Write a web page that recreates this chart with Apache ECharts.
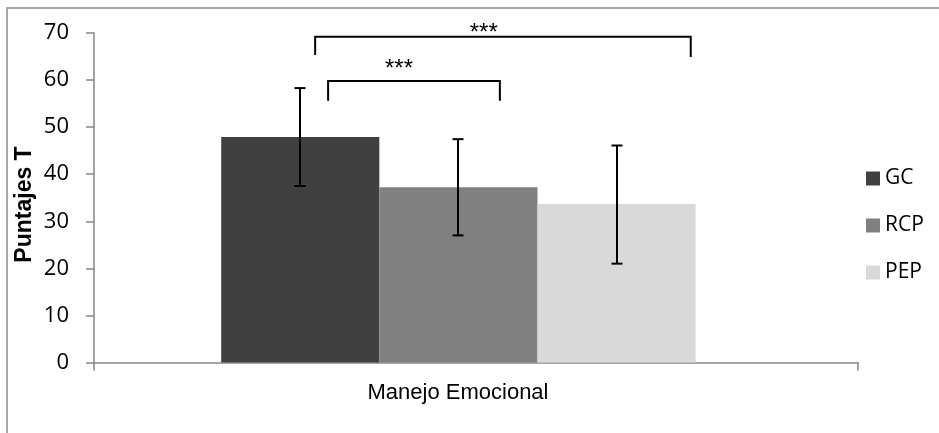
<!DOCTYPE html>
<html>
<head>
<meta charset="utf-8">
<script src="https://cdn.jsdelivr.net/npm/echarts@6/dist/echarts.min.js"></script>
<style>
html,body{margin:0;padding:0;background:#fff;}
#main{width:939px;height:433px;}
</style>
</head>
<body>
<div id="main"></div>
<script>
// ---- data ----
const categories = ['Manejo Emocional'];
const seriesNames = ['GC', 'RCP', 'PEP'];
const means = [47.9, 37.25, 33.65];
const errLow = [37.5, 27.0, 21.0];
const errHigh = [58.3, 47.45, 46.1];
// significance brackets: [fromSlot, toSlot, topValue, leftFootValue, rightFootValue]
const bracketFrom = [0.676, 0.594];
const bracketTo = [1.762, 2.969];
const bracketTop = [59.8, 69.2];
const bracketLeftFoot = [55.6, 65.3];
const bracketRightFoot = [55.6, 64.9];
const bracketLabel = ['***', '***'];
const bracketLabelSlot = [1.124, 1.66];
const bracketLabelValue = [62.3, 69.9];
const yTicks = { min: 0, max: 70, interval: 10 };

const colors = ['#404040', '#808080', '#d9d9d9'];
const BAR_PCT = 0.207, SPACER_PCT = 0.046;

const chart = echarts.init(document.getElementById('main'));

function slotX(api, slot) {
  const center = api.coord([0, 0])[0];
  const band = api.size([1, 0])[0];
  const bw = band * BAR_PCT, sw = band * SPACER_PCT;
  const start = center - (3 * bw + sw) / 2;
  return start + slot * bw;
}

const barSeries = seriesNames.map((n, i) => ({
  name: n, type: 'bar', data: [means[i]], barWidth: (BAR_PCT * 100) + '%',
  barGap: '0%', itemStyle: { color: colors[i] }, silent: true
}));
barSeries.push({ name: '_spacer', type: 'bar', data: ['-'], barWidth: (SPACER_PCT * 100) + '%', barGap: '0%', silent: true });

const errSeries = {
  type: 'custom', name: 'err', silent: true, z: 10,
  data: seriesNames.map((n, i) => [0, errLow[i], errHigh[i], i]),
  encode: { x: 0, y: [1, 2] },
  renderItem: function (params, api) {
    const slot = api.value(3);
    const x = Math.round(slotX(api, slot + 0.5));
    const yl = api.coord([0, api.value(1)])[1];
    const yh = api.coord([0, api.value(2)])[1];
    const cw = 5.5;
    const st = { stroke: '#000', lineWidth: 2 };
    return { type: 'group', children: [
      { type: 'line', shape: { x1: x, y1: yh, x2: x, y2: yl }, style: st },
      { type: 'line', shape: { x1: x - cw, y1: yh, x2: x + cw, y2: yh }, style: st },
      { type: 'line', shape: { x1: x - cw, y1: yl, x2: x + cw, y2: yl }, style: st }
    ]};
  }
};

const bracketSeries = {
  type: 'custom', name: 'brackets', silent: true, z: 10,
  data: bracketFrom.map((f, i) => [0, bracketTop[i], f, bracketTo[i], bracketLeftFoot[i], bracketRightFoot[i], bracketLabelSlot[i], bracketLabelValue[i], i]),
  encode: { x: 0, y: 1 },
  renderItem: function (params, api) {
    const i = api.value(8);
    const x1 = slotX(api, api.value(2));
    const x2 = slotX(api, api.value(3));
    const yt = api.coord([0, api.value(1)])[1];
    const yl = api.coord([0, api.value(4)])[1];
    const yr = api.coord([0, api.value(5)])[1];
    const tx = slotX(api, api.value(6));
    const ty = api.coord([0, api.value(7)])[1];
    return { type: 'group', children: [
      { type: 'polyline', shape: { points: [[x1, yl], [x1, yt], [x2, yt], [x2, yr]] },
        style: { stroke: '#000', lineWidth: 2, fill: null } },
      { type: 'text', x: tx, y: ty,
        style: { text: bracketLabel[i], fill: '#000', font: '24px "Liberation Sans", Arial, sans-serif',
          align: 'center', verticalAlign: 'middle' } }
    ]};
  }
};

chart.setOption({
  animation: false,
  backgroundColor: '#fff',
  grid: { left: 94, right: 81, top: 33, bottom: 70.5, containLabel: false },
  legend: {
    orient: 'vertical', left: 861, top: 163, itemWidth: 14, itemHeight: 14, itemGap: 26,
    data: seriesNames, icon: 'rect', selectedMode: false,
    textStyle: { fontFamily: '"Open Sans", sans-serif', fontSize: 21, color: '#000', padding: [0, 0, 0, 0] }
  },
  xAxis: {
    type: 'category', data: categories,
    axisLine: { lineStyle: { color: '#868686', width: 1.5 } },
    axisTick: { show: true, length: 8, lineStyle: { color: '#868686', width: 1.5 } },
    axisLabel: { margin: 19, color: '#000', fontFamily: '"Liberation Sans", Arial, sans-serif', fontSize: 22,
      padding: [0, 36, 0, 0] }
  },
  yAxis: {
    type: 'value', min: yTicks.min, max: yTicks.max, interval: yTicks.interval,
    axisLine: { show: true, lineStyle: { color: '#868686', width: 1.5 } },
    axisTick: { show: true, length: 8, lineStyle: { color: '#868686', width: 1.5 } },
    splitLine: { show: false },
    axisLabel: { margin: 25, color: '#000', fontFamily: '"Open Sans", sans-serif', fontSize: 22 }
  },
  graphic: [
    { type: 'rect', shape: { x: 7, y: 8, width: 1200, height: 1200 }, style: { fill: null, stroke: '#8c8c8c', lineWidth: 1.5 }, silent: true, z: -1 },
    { type: 'text', x: 25, y: 204.5, rotation: Math.PI / 2,
      style: { text: 'Puntajes T', fill: '#000', font: 'bold 23px "Liberation Sans", Arial, sans-serif', align: 'center', verticalAlign: 'middle' } }
  ],
  series: barSeries.concat([errSeries, bracketSeries])
});
</script>
</body>
</html>
